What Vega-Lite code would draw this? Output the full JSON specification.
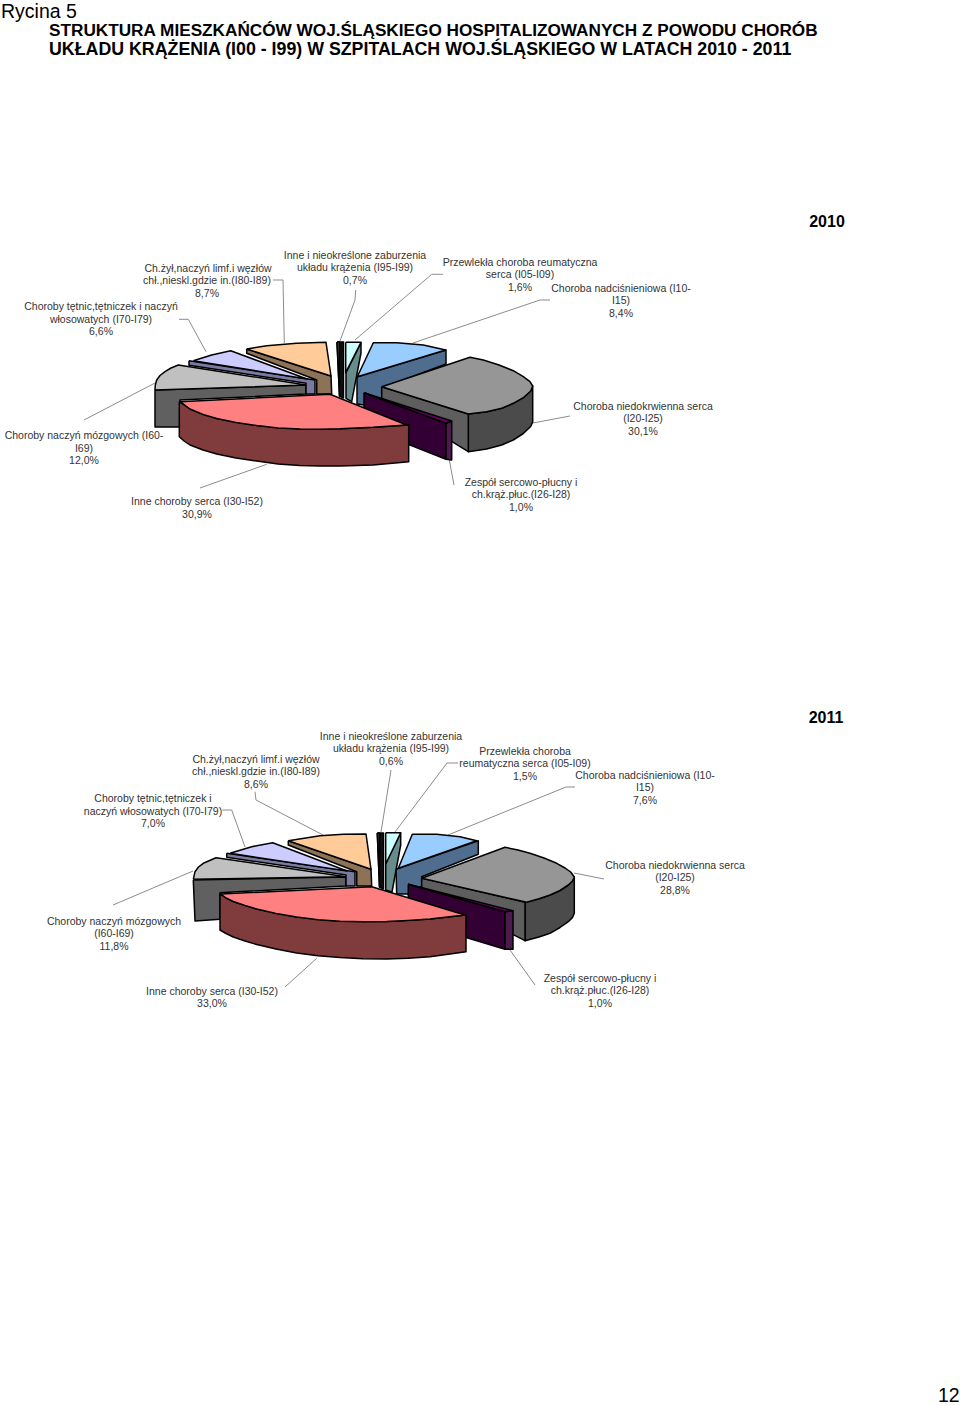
{"$schema":"https://vega.github.io/schema/vega-lite/v6.json","width":960,"height":1405,"padding":0,"autosize":"none","background":"white","config":{"view":{"stroke":null}},
"datasets":{
"faces":[
{"year":2010,"part":"mozgowe_side","seq":0,"x":155,"y":390},{"year":2010,"part":"mozgowe_side","seq":1,"x":306,"y":385},{"year":2010,"part":"mozgowe_side","seq":2,"x":306,"y":394},{"year":2010,"part":"mozgowe_side","seq":3,"x":180,"y":400},{"year":2010,"part":"mozgowe_side","seq":4,"x":180,"y":427},{"year":2010,"part":"mozgowe_side","seq":5,"x":155,"y":427},{"year":2010,"part":"mozgowe_side","seq":6,"x":155,"y":390},
{"year":2010,"part":"mozgowe_top","seq":0,"x":155,"y":390},{"year":2010,"part":"mozgowe_top","seq":1,"x":155.3,"y":385},{"year":2010,"part":"mozgowe_top","seq":2,"x":156.7,"y":380},{"year":2010,"part":"mozgowe_top","seq":3,"x":160,"y":375.5},{"year":2010,"part":"mozgowe_top","seq":4,"x":165,"y":371.7},{"year":2010,"part":"mozgowe_top","seq":5,"x":171,"y":368},{"year":2010,"part":"mozgowe_top","seq":6,"x":178.3,"y":365},{"year":2010,"part":"mozgowe_top","seq":7,"x":306,"y":385},{"year":2010,"part":"mozgowe_top","seq":8,"x":155,"y":390},
{"year":2010,"part":"tetnic_side","seq":0,"x":189,"y":360.7},{"year":2010,"part":"tetnic_side","seq":1,"x":315,"y":380},{"year":2010,"part":"tetnic_side","seq":2,"x":315,"y":394},{"year":2010,"part":"tetnic_side","seq":3,"x":306,"y":394},{"year":2010,"part":"tetnic_side","seq":4,"x":306,"y":383.3},{"year":2010,"part":"tetnic_side","seq":5,"x":189,"y":365.3},{"year":2010,"part":"tetnic_side","seq":6,"x":189,"y":360.7},
{"year":2010,"part":"tetnic_top","seq":0,"x":193.3,"y":360.7},{"year":2010,"part":"tetnic_top","seq":1,"x":211.7,"y":355},{"year":2010,"part":"tetnic_top","seq":2,"x":230.7,"y":350.7},{"year":2010,"part":"tetnic_top","seq":3,"x":307,"y":379},{"year":2010,"part":"tetnic_top","seq":4,"x":193.3,"y":360.7},
{"year":2010,"part":"zyl_side","seq":0,"x":246.7,"y":349},{"year":2010,"part":"zyl_side","seq":1,"x":331,"y":376},{"year":2010,"part":"zyl_side","seq":2,"x":331.7,"y":394},{"year":2010,"part":"zyl_side","seq":3,"x":316.7,"y":394},{"year":2010,"part":"zyl_side","seq":4,"x":316.7,"y":380},{"year":2010,"part":"zyl_side","seq":5,"x":246.7,"y":353.3},{"year":2010,"part":"zyl_side","seq":6,"x":246.7,"y":349},
{"year":2010,"part":"zyl_top","seq":0,"x":246.7,"y":349},{"year":2010,"part":"zyl_top","seq":1,"x":266.7,"y":345.7},{"year":2010,"part":"zyl_top","seq":2,"x":296.7,"y":343.3},{"year":2010,"part":"zyl_top","seq":3,"x":326,"y":342.3},{"year":2010,"part":"zyl_top","seq":4,"x":331,"y":376},{"year":2010,"part":"zyl_top","seq":5,"x":246.7,"y":349},
{"year":2010,"part":"inne_side","seq":0,"x":337,"y":342},{"year":2010,"part":"inne_side","seq":1,"x":343.5,"y":342},{"year":2010,"part":"inne_side","seq":2,"x":343.5,"y":398},{"year":2010,"part":"inne_side","seq":3,"x":339.5,"y":396},{"year":2010,"part":"inne_side","seq":4,"x":337,"y":342},
{"year":2010,"part":"inne_top","seq":0,"x":337,"y":342},{"year":2010,"part":"inne_top","seq":1,"x":339.5,"y":342},{"year":2010,"part":"inne_top","seq":2,"x":339.5,"y":396},{"year":2010,"part":"inne_top","seq":3,"x":337,"y":342},
{"year":2010,"part":"reum_side","seq":0,"x":361,"y":342.3},{"year":2010,"part":"reum_side","seq":1,"x":361,"y":353},{"year":2010,"part":"reum_side","seq":2,"x":351.7,"y":401.7},{"year":2010,"part":"reum_side","seq":3,"x":346,"y":398.3},{"year":2010,"part":"reum_side","seq":4,"x":346,"y":372.7},{"year":2010,"part":"reum_side","seq":5,"x":361,"y":342.3},
{"year":2010,"part":"reum_top","seq":0,"x":345.7,"y":342.3},{"year":2010,"part":"reum_top","seq":1,"x":361,"y":342.3},{"year":2010,"part":"reum_top","seq":2,"x":345.7,"y":372.7},{"year":2010,"part":"reum_top","seq":3,"x":345.7,"y":342.3},
{"year":2010,"part":"nadcis_side","seq":0,"x":357,"y":377},{"year":2010,"part":"nadcis_side","seq":1,"x":446,"y":350},{"year":2010,"part":"nadcis_side","seq":2,"x":446,"y":364},{"year":2010,"part":"nadcis_side","seq":3,"x":382,"y":388},{"year":2010,"part":"nadcis_side","seq":4,"x":382,"y":400},{"year":2010,"part":"nadcis_side","seq":5,"x":364,"y":405},{"year":2010,"part":"nadcis_side","seq":6,"x":357,"y":404},{"year":2010,"part":"nadcis_side","seq":7,"x":357,"y":377},
{"year":2010,"part":"nadcis_top","seq":0,"x":357.3,"y":376.7},{"year":2010,"part":"nadcis_top","seq":1,"x":373.3,"y":342.7},{"year":2010,"part":"nadcis_top","seq":2,"x":396.7,"y":342.7},{"year":2010,"part":"nadcis_top","seq":3,"x":423.3,"y":345},{"year":2010,"part":"nadcis_top","seq":4,"x":445.7,"y":350},{"year":2010,"part":"nadcis_top","seq":5,"x":357.3,"y":376.7},
{"year":2010,"part":"niedo_outer","seq":0,"x":468.3,"y":414},{"year":2010,"part":"niedo_outer","seq":1,"x":486.7,"y":411.7},{"year":2010,"part":"niedo_outer","seq":2,"x":501.7,"y":408.3},{"year":2010,"part":"niedo_outer","seq":3,"x":513.3,"y":403.3},{"year":2010,"part":"niedo_outer","seq":4,"x":523.3,"y":397.7},{"year":2010,"part":"niedo_outer","seq":5,"x":530.7,"y":391},{"year":2010,"part":"niedo_outer","seq":6,"x":532.7,"y":386},{"year":2010,"part":"niedo_outer","seq":7,"x":532.7,"y":422},{"year":2010,"part":"niedo_outer","seq":8,"x":530.7,"y":426.5},{"year":2010,"part":"niedo_outer","seq":9,"x":523.3,"y":433.5},{"year":2010,"part":"niedo_outer","seq":10,"x":513.3,"y":440},{"year":2010,"part":"niedo_outer","seq":11,"x":501.7,"y":445},{"year":2010,"part":"niedo_outer","seq":12,"x":486.7,"y":449},{"year":2010,"part":"niedo_outer","seq":13,"x":468.3,"y":451.7},{"year":2010,"part":"niedo_outer","seq":14,"x":468.3,"y":414},
{"year":2010,"part":"niedo_inner","seq":0,"x":381.7,"y":386.7},{"year":2010,"part":"niedo_inner","seq":1,"x":468.3,"y":414},{"year":2010,"part":"niedo_inner","seq":2,"x":468.3,"y":451.7},{"year":2010,"part":"niedo_inner","seq":3,"x":381.7,"y":398.3},{"year":2010,"part":"niedo_inner","seq":4,"x":381.7,"y":386.7},
{"year":2010,"part":"niedo_top","seq":0,"x":381.7,"y":386.7},{"year":2010,"part":"niedo_top","seq":1,"x":470,"y":357.3},{"year":2010,"part":"niedo_top","seq":2,"x":483.3,"y":360},{"year":2010,"part":"niedo_top","seq":3,"x":498.3,"y":364.7},{"year":2010,"part":"niedo_top","seq":4,"x":513.3,"y":370.7},{"year":2010,"part":"niedo_top","seq":5,"x":523.3,"y":376.7},{"year":2010,"part":"niedo_top","seq":6,"x":530,"y":381.7},{"year":2010,"part":"niedo_top","seq":7,"x":532.7,"y":386},{"year":2010,"part":"niedo_top","seq":8,"x":530.7,"y":391},{"year":2010,"part":"niedo_top","seq":9,"x":523.3,"y":397.7},{"year":2010,"part":"niedo_top","seq":10,"x":513.3,"y":403.3},{"year":2010,"part":"niedo_top","seq":11,"x":501.7,"y":408.3},{"year":2010,"part":"niedo_top","seq":12,"x":486.7,"y":411.7},{"year":2010,"part":"niedo_top","seq":13,"x":468.3,"y":414},{"year":2010,"part":"niedo_top","seq":14,"x":381.7,"y":386.7},
{"year":2010,"part":"zesp_side","seq":0,"x":364,"y":392.7},{"year":2010,"part":"zesp_side","seq":1,"x":446,"y":423.3},{"year":2010,"part":"zesp_side","seq":2,"x":446,"y":459.3},{"year":2010,"part":"zesp_side","seq":3,"x":364,"y":426.7},{"year":2010,"part":"zesp_side","seq":4,"x":364,"y":392.7},
{"year":2010,"part":"zesp_end","seq":0,"x":446,"y":423.3},{"year":2010,"part":"zesp_end","seq":1,"x":451.7,"y":421},{"year":2010,"part":"zesp_end","seq":2,"x":451.7,"y":460},{"year":2010,"part":"zesp_end","seq":3,"x":446,"y":459.3},{"year":2010,"part":"zesp_end","seq":4,"x":446,"y":423.3},
{"year":2010,"part":"zesp_top","seq":0,"x":364,"y":392.7},{"year":2010,"part":"zesp_top","seq":1,"x":451.7,"y":421},{"year":2010,"part":"zesp_top","seq":2,"x":446,"y":423.3},{"year":2010,"part":"zesp_top","seq":3,"x":364,"y":392.7},
{"year":2010,"part":"serca_side","seq":0,"x":179.3,"y":401.7},{"year":2010,"part":"serca_side","seq":1,"x":190,"y":409},{"year":2010,"part":"serca_side","seq":2,"x":216.7,"y":418.5},{"year":2010,"part":"serca_side","seq":3,"x":256.7,"y":425.5},{"year":2010,"part":"serca_side","seq":4,"x":300,"y":429},{"year":2010,"part":"serca_side","seq":5,"x":340,"y":428.8},{"year":2010,"part":"serca_side","seq":6,"x":373,"y":427.3},{"year":2010,"part":"serca_side","seq":7,"x":408.7,"y":425},{"year":2010,"part":"serca_side","seq":8,"x":408.7,"y":461.7},{"year":2010,"part":"serca_side","seq":9,"x":373,"y":465},{"year":2010,"part":"serca_side","seq":10,"x":340,"y":466},{"year":2010,"part":"serca_side","seq":11,"x":320,"y":466},{"year":2010,"part":"serca_side","seq":12,"x":300,"y":465.5},{"year":2010,"part":"serca_side","seq":13,"x":278,"y":464},{"year":2010,"part":"serca_side","seq":14,"x":256.7,"y":461},{"year":2010,"part":"serca_side","seq":15,"x":236,"y":458},{"year":2010,"part":"serca_side","seq":16,"x":216.7,"y":454},{"year":2010,"part":"serca_side","seq":17,"x":203,"y":450},{"year":2010,"part":"serca_side","seq":18,"x":190,"y":445},{"year":2010,"part":"serca_side","seq":19,"x":184,"y":441},{"year":2010,"part":"serca_side","seq":20,"x":179.3,"y":436.7},{"year":2010,"part":"serca_side","seq":21,"x":179.3,"y":401.7},
{"year":2010,"part":"serca_top","seq":0,"x":180,"y":401.7},{"year":2010,"part":"serca_top","seq":1,"x":330,"y":394.3},{"year":2010,"part":"serca_top","seq":2,"x":406.7,"y":425},{"year":2010,"part":"serca_top","seq":3,"x":373,"y":427.3},{"year":2010,"part":"serca_top","seq":4,"x":340,"y":428.8},{"year":2010,"part":"serca_top","seq":5,"x":320,"y":429.2},{"year":2010,"part":"serca_top","seq":6,"x":300,"y":429},{"year":2010,"part":"serca_top","seq":7,"x":278,"y":428},{"year":2010,"part":"serca_top","seq":8,"x":256.7,"y":425.5},{"year":2010,"part":"serca_top","seq":9,"x":236,"y":422.5},{"year":2010,"part":"serca_top","seq":10,"x":216.7,"y":418.5},{"year":2010,"part":"serca_top","seq":11,"x":203,"y":414.5},{"year":2010,"part":"serca_top","seq":12,"x":190,"y":409},{"year":2010,"part":"serca_top","seq":13,"x":180,"y":401.7},

{"year":2011,"part":"mozgowe_side","seq":0,"x":193.3,"y":880},{"year":2011,"part":"mozgowe_side","seq":1,"x":346,"y":877},{"year":2011,"part":"mozgowe_side","seq":2,"x":346,"y":886},{"year":2011,"part":"mozgowe_side","seq":3,"x":220,"y":892.7},{"year":2011,"part":"mozgowe_side","seq":4,"x":220,"y":919.3},{"year":2011,"part":"mozgowe_side","seq":5,"x":195,"y":921},{"year":2011,"part":"mozgowe_side","seq":6,"x":193.3,"y":880},
{"year":2011,"part":"mozgowe_top","seq":0,"x":193.3,"y":879.3},{"year":2011,"part":"mozgowe_top","seq":1,"x":195,"y":871.7},{"year":2011,"part":"mozgowe_top","seq":2,"x":198.5,"y":867},{"year":2011,"part":"mozgowe_top","seq":3,"x":203.3,"y":863.3},{"year":2011,"part":"mozgowe_top","seq":4,"x":216,"y":857.7},{"year":2011,"part":"mozgowe_top","seq":5,"x":346,"y":876.7},{"year":2011,"part":"mozgowe_top","seq":6,"x":193.3,"y":879.3},
{"year":2011,"part":"tetnic_side","seq":0,"x":226.7,"y":853.3},{"year":2011,"part":"tetnic_side","seq":1,"x":355,"y":871.7},{"year":2011,"part":"tetnic_side","seq":2,"x":355,"y":886},{"year":2011,"part":"tetnic_side","seq":3,"x":346,"y":886},{"year":2011,"part":"tetnic_side","seq":4,"x":346,"y":875},{"year":2011,"part":"tetnic_side","seq":5,"x":226.7,"y":857.3},{"year":2011,"part":"tetnic_side","seq":6,"x":226.7,"y":853.3},
{"year":2011,"part":"tetnic_top","seq":0,"x":230,"y":853.3},{"year":2011,"part":"tetnic_top","seq":1,"x":251.7,"y":846.7},{"year":2011,"part":"tetnic_top","seq":2,"x":272.7,"y":842.7},{"year":2011,"part":"tetnic_top","seq":3,"x":347,"y":871},{"year":2011,"part":"tetnic_top","seq":4,"x":230,"y":853.3},
{"year":2011,"part":"zyl_side","seq":0,"x":288.3,"y":840.7},{"year":2011,"part":"zyl_side","seq":1,"x":371,"y":869.3},{"year":2011,"part":"zyl_side","seq":2,"x":371.7,"y":886},{"year":2011,"part":"zyl_side","seq":3,"x":356.7,"y":886},{"year":2011,"part":"zyl_side","seq":4,"x":356.7,"y":871.7},{"year":2011,"part":"zyl_side","seq":5,"x":288.3,"y":845},{"year":2011,"part":"zyl_side","seq":6,"x":288.3,"y":840.7},
{"year":2011,"part":"zyl_top","seq":0,"x":288.3,"y":840.7},{"year":2011,"part":"zyl_top","seq":1,"x":320,"y":835.7},{"year":2011,"part":"zyl_top","seq":2,"x":343.3,"y":834.3},{"year":2011,"part":"zyl_top","seq":3,"x":366,"y":834},{"year":2011,"part":"zyl_top","seq":4,"x":371,"y":869.3},{"year":2011,"part":"zyl_top","seq":5,"x":288.3,"y":840.7},
{"year":2011,"part":"inne_side","seq":0,"x":377.3,"y":833},{"year":2011,"part":"inne_side","seq":1,"x":383.5,"y":833},{"year":2011,"part":"inne_side","seq":2,"x":383.5,"y":889},{"year":2011,"part":"inne_side","seq":3,"x":379.5,"y":887},{"year":2011,"part":"inne_side","seq":4,"x":377.3,"y":833},
{"year":2011,"part":"inne_top","seq":0,"x":377.3,"y":833},{"year":2011,"part":"inne_top","seq":1,"x":379.5,"y":833},{"year":2011,"part":"inne_top","seq":2,"x":379.5,"y":887},{"year":2011,"part":"inne_top","seq":3,"x":377.3,"y":833},
{"year":2011,"part":"reum_side","seq":0,"x":400.7,"y":832.7},{"year":2011,"part":"reum_side","seq":1,"x":400.7,"y":845},{"year":2011,"part":"reum_side","seq":2,"x":392,"y":892},{"year":2011,"part":"reum_side","seq":3,"x":385.7,"y":890},{"year":2011,"part":"reum_side","seq":4,"x":385.7,"y":864},{"year":2011,"part":"reum_side","seq":5,"x":400.7,"y":832.7},
{"year":2011,"part":"reum_top","seq":0,"x":385.7,"y":832.7},{"year":2011,"part":"reum_top","seq":1,"x":400.7,"y":832.7},{"year":2011,"part":"reum_top","seq":2,"x":385.7,"y":864},{"year":2011,"part":"reum_top","seq":3,"x":385.7,"y":832.7},
{"year":2011,"part":"nadcis_side","seq":0,"x":396,"y":869.3},{"year":2011,"part":"nadcis_side","seq":1,"x":478.3,"y":840.7},{"year":2011,"part":"nadcis_side","seq":2,"x":478.3,"y":854.3},{"year":2011,"part":"nadcis_side","seq":3,"x":421.7,"y":876.7},{"year":2011,"part":"nadcis_side","seq":4,"x":421.7,"y":886.7},{"year":2011,"part":"nadcis_side","seq":5,"x":408.3,"y":894},{"year":2011,"part":"nadcis_side","seq":6,"x":396.7,"y":894},{"year":2011,"part":"nadcis_side","seq":7,"x":396,"y":869.3},
{"year":2011,"part":"nadcis_top","seq":0,"x":398.3,"y":868.3},{"year":2011,"part":"nadcis_top","seq":1,"x":412.3,"y":834.3},{"year":2011,"part":"nadcis_top","seq":2,"x":436.7,"y":834.3},{"year":2011,"part":"nadcis_top","seq":3,"x":460,"y":836.7},{"year":2011,"part":"nadcis_top","seq":4,"x":476.7,"y":840.7},{"year":2011,"part":"nadcis_top","seq":5,"x":398.3,"y":868.3},
{"year":2011,"part":"niedo_outer","seq":0,"x":525,"y":902.3},{"year":2011,"part":"niedo_outer","seq":1,"x":539,"y":898.8},{"year":2011,"part":"niedo_outer","seq":2,"x":550,"y":895},{"year":2011,"part":"niedo_outer","seq":3,"x":560,"y":890.5},{"year":2011,"part":"niedo_outer","seq":4,"x":568.3,"y":885},{"year":2011,"part":"niedo_outer","seq":5,"x":572.5,"y":881},{"year":2011,"part":"niedo_outer","seq":6,"x":574.3,"y":877},{"year":2011,"part":"niedo_outer","seq":7,"x":574.3,"y":913.3},{"year":2011,"part":"niedo_outer","seq":8,"x":572.5,"y":917.5},{"year":2011,"part":"niedo_outer","seq":9,"x":568.3,"y":921.7},{"year":2011,"part":"niedo_outer","seq":10,"x":560,"y":927.5},{"year":2011,"part":"niedo_outer","seq":11,"x":550,"y":933.3},{"year":2011,"part":"niedo_outer","seq":12,"x":539,"y":937},{"year":2011,"part":"niedo_outer","seq":13,"x":525,"y":940.7},{"year":2011,"part":"niedo_outer","seq":14,"x":525,"y":902.3},
{"year":2011,"part":"niedo_inner","seq":0,"x":421.7,"y":878},{"year":2011,"part":"niedo_inner","seq":1,"x":525,"y":902.3},{"year":2011,"part":"niedo_inner","seq":2,"x":525,"y":940.7},{"year":2011,"part":"niedo_inner","seq":3,"x":421.7,"y":888},{"year":2011,"part":"niedo_inner","seq":4,"x":421.7,"y":878},
{"year":2011,"part":"niedo_top","seq":0,"x":421.7,"y":878.3},{"year":2011,"part":"niedo_top","seq":1,"x":505,"y":847.3},{"year":2011,"part":"niedo_top","seq":2,"x":518,"y":850},{"year":2011,"part":"niedo_top","seq":3,"x":530,"y":853.3},{"year":2011,"part":"niedo_top","seq":4,"x":544,"y":858},{"year":2011,"part":"niedo_top","seq":5,"x":556.7,"y":863.3},{"year":2011,"part":"niedo_top","seq":6,"x":565,"y":868},{"year":2011,"part":"niedo_top","seq":7,"x":570.7,"y":872},{"year":2011,"part":"niedo_top","seq":8,"x":574.3,"y":877},{"year":2011,"part":"niedo_top","seq":9,"x":572.5,"y":881},{"year":2011,"part":"niedo_top","seq":10,"x":568.3,"y":885},{"year":2011,"part":"niedo_top","seq":11,"x":560,"y":890.5},{"year":2011,"part":"niedo_top","seq":12,"x":550,"y":895},{"year":2011,"part":"niedo_top","seq":13,"x":539,"y":898.8},{"year":2011,"part":"niedo_top","seq":14,"x":526.7,"y":902.3},{"year":2011,"part":"niedo_top","seq":15,"x":421.7,"y":878.3},
{"year":2011,"part":"zesp_side","seq":0,"x":408.3,"y":884.3},{"year":2011,"part":"zesp_side","seq":1,"x":505,"y":911.7},{"year":2011,"part":"zesp_side","seq":2,"x":505,"y":949.3},{"year":2011,"part":"zesp_side","seq":3,"x":408,"y":920},{"year":2011,"part":"zesp_side","seq":4,"x":408.3,"y":884.3},
{"year":2011,"part":"zesp_end","seq":0,"x":505,"y":911.7},{"year":2011,"part":"zesp_end","seq":1,"x":513,"y":910.7},{"year":2011,"part":"zesp_end","seq":2,"x":513,"y":949.3},{"year":2011,"part":"zesp_end","seq":3,"x":505,"y":949.3},{"year":2011,"part":"zesp_end","seq":4,"x":505,"y":911.7},
{"year":2011,"part":"zesp_top","seq":0,"x":408.3,"y":884.3},{"year":2011,"part":"zesp_top","seq":1,"x":513,"y":910.7},{"year":2011,"part":"zesp_top","seq":2,"x":505,"y":911.7},{"year":2011,"part":"zesp_top","seq":3,"x":408.3,"y":884.3},
{"year":2011,"part":"serca_side","seq":0,"x":220,"y":894},{"year":2011,"part":"serca_side","seq":1,"x":233.3,"y":901.5},{"year":2011,"part":"serca_side","seq":2,"x":256.7,"y":909},{"year":2011,"part":"serca_side","seq":3,"x":296.7,"y":917},{"year":2011,"part":"serca_side","seq":4,"x":340,"y":921.2},{"year":2011,"part":"serca_side","seq":5,"x":386.7,"y":921.5},{"year":2011,"part":"serca_side","seq":6,"x":430,"y":919},{"year":2011,"part":"serca_side","seq":7,"x":466,"y":915},{"year":2011,"part":"serca_side","seq":8,"x":466,"y":951.7},{"year":2011,"part":"serca_side","seq":9,"x":430,"y":956.7},{"year":2011,"part":"serca_side","seq":10,"x":408,"y":958.2},{"year":2011,"part":"serca_side","seq":11,"x":386.7,"y":959},{"year":2011,"part":"serca_side","seq":12,"x":363,"y":958.8},{"year":2011,"part":"serca_side","seq":13,"x":340,"y":957.6},{"year":2011,"part":"serca_side","seq":14,"x":318,"y":955.8},{"year":2011,"part":"serca_side","seq":15,"x":296.7,"y":953},{"year":2011,"part":"serca_side","seq":16,"x":276,"y":949},{"year":2011,"part":"serca_side","seq":17,"x":256.7,"y":944.5},{"year":2011,"part":"serca_side","seq":18,"x":245,"y":941},{"year":2011,"part":"serca_side","seq":19,"x":233.3,"y":937},{"year":2011,"part":"serca_side","seq":20,"x":226,"y":933.5},{"year":2011,"part":"serca_side","seq":21,"x":220,"y":930},{"year":2011,"part":"serca_side","seq":22,"x":220,"y":894},
{"year":2011,"part":"serca_top","seq":0,"x":220.7,"y":894},{"year":2011,"part":"serca_top","seq":1,"x":371.7,"y":886.7},{"year":2011,"part":"serca_top","seq":2,"x":465,"y":915},{"year":2011,"part":"serca_top","seq":3,"x":430,"y":919},{"year":2011,"part":"serca_top","seq":4,"x":408,"y":920.5},{"year":2011,"part":"serca_top","seq":5,"x":386.7,"y":921.5},{"year":2011,"part":"serca_top","seq":6,"x":363,"y":921.8},{"year":2011,"part":"serca_top","seq":7,"x":340,"y":921.2},{"year":2011,"part":"serca_top","seq":8,"x":318,"y":919.8},{"year":2011,"part":"serca_top","seq":9,"x":296.7,"y":917},{"year":2011,"part":"serca_top","seq":10,"x":276,"y":913.5},{"year":2011,"part":"serca_top","seq":11,"x":256.7,"y":909},{"year":2011,"part":"serca_top","seq":12,"x":245,"y":905.5},{"year":2011,"part":"serca_top","seq":13,"x":233.3,"y":901.5},{"year":2011,"part":"serca_top","seq":14,"x":226,"y":898},{"year":2011,"part":"serca_top","seq":15,"x":220.7,"y":894}
],
"leaders":[
{"id":"a1","seq":0,"x":273,"y":280},{"id":"a1","seq":1,"x":283,"y":280},{"id":"a1","seq":2,"x":284.3,"y":343},
{"id":"a2","seq":0,"x":179,"y":319.3},{"id":"a2","seq":1,"x":188.3,"y":319.3},{"id":"a2","seq":2,"x":206,"y":351.7},
{"id":"a3","seq":0,"x":355.7,"y":290},{"id":"a3","seq":1,"x":355,"y":300},{"id":"a3","seq":2,"x":340,"y":341},
{"id":"a4","seq":0,"x":443,"y":274.3},{"id":"a4","seq":1,"x":431.7,"y":274.3},{"id":"a4","seq":2,"x":355,"y":340},
{"id":"a5","seq":0,"x":550,"y":300},{"id":"a5","seq":1,"x":540,"y":300},{"id":"a5","seq":2,"x":413,"y":343},
{"id":"a6","seq":0,"x":84,"y":420},{"id":"a6","seq":1,"x":155,"y":383},
{"id":"a7","seq":0,"x":533,"y":423},{"id":"a7","seq":1,"x":570,"y":416},
{"id":"a8","seq":0,"x":449.3,"y":460},{"id":"a8","seq":1,"x":454,"y":485},
{"id":"a9","seq":0,"x":266.7,"y":464.3},{"id":"a9","seq":1,"x":200,"y":488},
{"id":"b1","seq":0,"x":255,"y":791.7},{"id":"b1","seq":1,"x":256,"y":800},{"id":"b1","seq":2,"x":323,"y":835},
{"id":"b2","seq":0,"x":222.3,"y":810},{"id":"b2","seq":1,"x":231.7,"y":810},{"id":"b2","seq":2,"x":245,"y":847},
{"id":"b3","seq":0,"x":391,"y":770},{"id":"b3","seq":1,"x":381,"y":832},
{"id":"b4","seq":0,"x":458,"y":763},{"id":"b4","seq":1,"x":447,"y":763},{"id":"b4","seq":2,"x":395,"y":832},
{"id":"b5","seq":0,"x":575,"y":787},{"id":"b5","seq":1,"x":566,"y":787},{"id":"b5","seq":2,"x":448,"y":835},
{"id":"b6","seq":0,"x":113,"y":905},{"id":"b6","seq":1,"x":193,"y":871},
{"id":"b7","seq":0,"x":574,"y":873},{"id":"b7","seq":1,"x":604,"y":879},
{"id":"b8","seq":0,"x":510,"y":950},{"id":"b8","seq":1,"x":535,"y":985},
{"id":"b9","seq":0,"x":316.7,"y":958.3},{"id":"b9","seq":1,"x":285,"y":987}
],
"labels":[
{"t":"Ch.żył,naczyń limf.i węzłów","x":208,"y":268},{"t":"chł.,nieskl.gdzie in.(I80-I89)","x":207,"y":280},{"t":"8,7%","x":207,"y":293},
{"t":"Choroby tętnic,tętniczek i naczyń","x":101,"y":306},{"t":"włosowatych (I70-I79)","x":101,"y":319},{"t":"6,6%","x":101,"y":331},
{"t":"Inne i nieokreślone zaburzenia","x":355,"y":255},{"t":"układu krążenia (I95-I99)","x":355,"y":267},{"t":"0,7%","x":355,"y":280},
{"t":"Przewlekła choroba reumatyczna","x":520,"y":262},{"t":"serca (I05-I09)","x":520,"y":274},{"t":"1,6%","x":520,"y":287},
{"t":"Choroba nadciśnieniowa (I10-","x":621,"y":288},{"t":"I15)","x":621,"y":300},{"t":"8,4%","x":621,"y":313},
{"t":"Choroba niedokrwienna serca","x":643,"y":406},{"t":"(I20-I25)","x":643,"y":418},{"t":"30,1%","x":643,"y":431},
{"t":"Choroby naczyń mózgowych (I60-","x":84,"y":435},{"t":"I69)","x":84,"y":448},{"t":"12,0%","x":84,"y":460},
{"t":"Inne choroby serca (I30-I52)","x":197,"y":501},{"t":"30,9%","x":197,"y":514},
{"t":"Zespół sercowo-płucny i","x":521,"y":482},{"t":"ch.krąż.płuc.(I26-I28)","x":521,"y":494},{"t":"1,0%","x":521,"y":507},
{"t":"Inne i nieokreślone zaburzenia","x":391,"y":736},{"t":"układu krążenia (I95-I99)","x":391,"y":748},{"t":"0,6%","x":391,"y":761},
{"t":"Przewlekła choroba","x":525,"y":751},{"t":"reumatyczna serca (I05-I09)","x":525,"y":763},{"t":"1,5%","x":525,"y":776},
{"t":"Choroba nadciśnieniowa (I10-","x":645,"y":775},{"t":"I15)","x":645,"y":787},{"t":"7,6%","x":645,"y":800},
{"t":"Ch.żył,naczyń limf.i węzłów","x":256,"y":759},{"t":"chł.,nieskl.gdzie in.(I80-I89)","x":256,"y":771},{"t":"8,6%","x":256,"y":784},
{"t":"Choroby tętnic,tętniczek i","x":153,"y":798},{"t":"naczyń włosowatych (I70-I79)","x":153,"y":811},{"t":"7,0%","x":153,"y":823},
{"t":"Choroba niedokrwienna serca","x":675,"y":865},{"t":"(I20-I25)","x":675,"y":877},{"t":"28,8%","x":675,"y":890},
{"t":"Choroby naczyń mózgowych","x":114,"y":921},{"t":"(I60-I69)","x":114,"y":933},{"t":"11,8%","x":114,"y":946},
{"t":"Inne choroby serca (I30-I52)","x":212,"y":991},{"t":"33,0%","x":212,"y":1003},
{"t":"Zespół sercowo-płucny i","x":600,"y":978},{"t":"ch.krąż.płuc.(I26-I28)","x":600,"y":990},{"t":"1,0%","x":600,"y":1003}
],
"years":[{"t":"2010","x":827,"y":222},{"t":"2011","x":826,"y":718}]
},
"layer":[
{"data":{"name":"leaders"},"mark":{"type":"line","stroke":"#8c8c8c","strokeWidth":1},"encoding":{"x":{"field":"x","type":"quantitative","scale":{"domain":[0,960],"nice":false,"zero":false},"axis":null},"y":{"field":"y","type":"quantitative","scale":{"domain":[1405,0],"nice":false,"zero":false},"axis":null},"detail":{"field":"id"},"order":{"field":"seq"}}},
{"data":{"name":"faces"},"mark":{"type":"line","stroke":"#000000","strokeWidth":1.5,"strokeJoin":"round","filled":true},"encoding":{"x":{"field":"x","type":"quantitative","axis":null},"y":{"field":"y","type":"quantitative","axis":null},"detail":{"field":"year"},"order":{"field":"seq"},"fill":{"field":"part","type":"nominal","legend":null,"scale":{"domain":["mozgowe_side","mozgowe_top","tetnic_side","tetnic_top","zyl_side","zyl_top","inne_side","inne_top","reum_side","reum_top","nadcis_side","nadcis_top","niedo_outer","niedo_inner","niedo_top","zesp_side","zesp_end","zesp_top","serca_side","serca_top"],"range":["#606060","#c0c0c0","#7a7aa0","#ccccff","#8c7358","#ffcc99","#101010","#444444","#668c8c","#ccffff","#4f6d8f","#99ccff","#4b4b4b","#5e5e5e","#969696","#330033","#4d1a4d","#660066","#803c3c","#ff8080"]}}}},
{"data":{"name":"labels"},"mark":{"type":"text","font":"Liberation Sans","fontSize":10.5,"dy":1,"align":"center","baseline":"middle","fill":"#333333"},"encoding":{"x":{"field":"x","type":"quantitative","axis":null},"y":{"field":"y","type":"quantitative","axis":null},"text":{"field":"t"}}},
{"data":{"values":[{"t":"STRUKTURA MIESZKAŃCÓW WOJ.ŚLĄSKIEGO HOSPITALIZOWANYCH Z POWODU CHORÓB","x":49,"y":31}]},"mark":{"type":"text","font":"Liberation Sans","fontSize":17.2,"fontWeight":"bold","align":"left","baseline":"middle","fill":"#000000"},"encoding":{"x":{"field":"x","type":"quantitative","axis":null},"y":{"field":"y","type":"quantitative","axis":null},"text":{"field":"t"}}},
{"data":{"values":[{"t":"UKŁADU KRĄŻENIA (I00 - I99) W SZPITALACH WOJ.ŚLĄSKIEGO W LATACH 2010 - 2011","x":49,"y":50}]},"mark":{"type":"text","font":"Liberation Sans","fontSize":17.8,"fontWeight":"bold","align":"left","baseline":"middle","fill":"#000000"},"encoding":{"x":{"field":"x","type":"quantitative","axis":null},"y":{"field":"y","type":"quantitative","axis":null},"text":{"field":"t"}}},
{"data":{"values":[{"t":"Rycina 5","x":1,"y":12},{"t":"12","x":938,"y":1396}]},"mark":{"type":"text","font":"Liberation Sans","fontSize":19.5,"align":"left","baseline":"middle","fill":"#000000"},"encoding":{"x":{"field":"x","type":"quantitative","axis":null},"y":{"field":"y","type":"quantitative","axis":null},"text":{"field":"t"}}},
{"data":{"name":"years"},"mark":{"type":"text","font":"Liberation Sans","fontSize":16,"fontWeight":"bold","align":"center","baseline":"middle","fill":"#000000"},"encoding":{"x":{"field":"x","type":"quantitative","axis":null},"y":{"field":"y","type":"quantitative","axis":null},"text":{"field":"t"}}}
]}
